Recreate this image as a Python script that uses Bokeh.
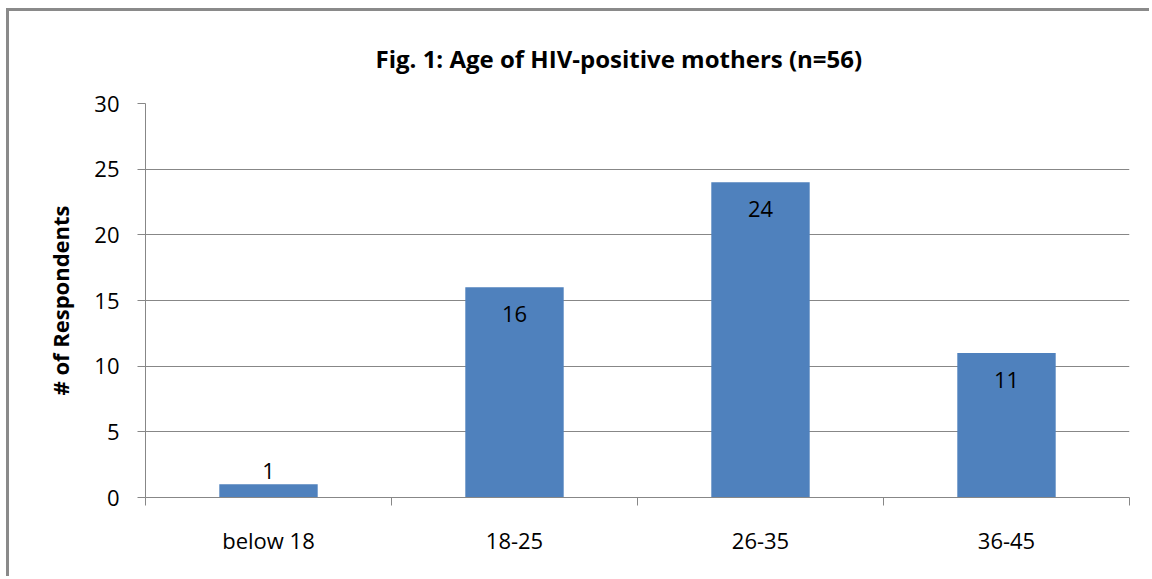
from bokeh.plotting import figure
from bokeh.models import FixedTicker, ColumnDataSource
from bokeh.core.properties import value
from bokeh.embed import file_html
from bokeh.resources import INLINE

categories = ["below 18", "18-25", "26-35", "36-45"]
counts = [1, 16, 24, 11]
y_ticks = [0, 5, 10, 15, 20, 25, 30]
title_text = "Fig. 1: Age of HIV-positive mothers (n=56)"

FONT = "Open Sans"
GREY = "#878787"
BAR = "#4F81BD"

W, H = 1143, 568
p = figure(width=W, height=H, x_range=(0, len(categories)), y_range=(0, 30),
           output_backend="svg", toolbar_location=None,
           min_border_left=136, min_border_right=23, min_border_top=91, min_border_bottom=82)
p.styles = {"border-left": "3px solid #8a8a8a", "border-top": "3px solid #8a8a8a",
            "margin-left": "6px", "margin-top": "8px"}
p.outline_line_color = None
p.background_fill_color = "white"
p.border_fill_color = "white"

p.title.text = title_text
p.title.align = "left"
p.title.offset = 230
p.title.standoff = 57
p.title.text_font = FONT
p.title.text_font_size = "24px"
p.title.text_font_style = "bold"
p.title.text_color = "black"

xs = [i + 0.5 for i in range(len(categories))]
src = ColumnDataSource(dict(x=xs, top=counts))
p.vbar(x="x", top="top", width=0.4, bottom=0, source=src, fill_color=BAR, line_color=None)

# data labels: inside bar end, or above if bar is short
inside = dict(x=[], y=[], t=[])
outside = dict(x=[], y=[], t=[])
for x, c in zip(xs, counts):
    d = inside if c >= 5 else outside
    d["x"].append(x); d["y"].append(c); d["t"].append(str(c))
p.text(x="x", y="y", text="t", source=ColumnDataSource(inside), text_align="center",
       text_baseline="top", y_offset=19, text_font=value(FONT), text_font_size="22px", text_color="black")
p.text(x="x", y="y", text="t", source=ColumnDataSource(outside), text_align="center",
       text_baseline="bottom", y_offset=-5, text_font=value(FONT), text_font_size="22px", text_color="black")

# axes
p.yaxis.ticker = FixedTicker(ticks=y_ticks, minor_ticks=[])
p.yaxis.axis_line_color = GREY
p.yaxis.major_tick_line_color = GREY
p.yaxis.major_tick_out = 8
p.yaxis.major_tick_in = 0
p.yaxis.minor_tick_line_color = None
p.yaxis.major_label_text_font = FONT
p.yaxis.major_label_text_font_size = "22px"
p.yaxis.major_label_text_color = "black"
p.yaxis.major_label_standoff = 18
p.yaxis.axis_label = "# of Respondents"
p.yaxis.axis_label_text_font = FONT
p.yaxis.axis_label_text_font_size = "22px"
p.yaxis.axis_label_text_font_style = "bold"
p.yaxis.axis_label_text_color = "black"
p.yaxis.axis_label_standoff = 16

p.xaxis.ticker = FixedTicker(ticks=xs, minor_ticks=list(range(len(categories) + 1)))
p.xaxis.major_label_overrides = {x: c for x, c in zip(xs, categories)}
p.xaxis.axis_line_color = GREY
p.xaxis.major_tick_line_color = None
p.xaxis.minor_tick_line_color = GREY
p.xaxis.minor_tick_out = 8
p.xaxis.minor_tick_in = 0
p.xaxis.major_label_text_font = FONT
p.xaxis.major_label_text_font_size = "22px"
p.xaxis.major_label_text_color = "black"
p.xaxis.major_label_standoff = 19

p.xgrid.grid_line_color = None
p.ygrid.grid_line_color = GREY
p.ygrid.grid_line_width = 1

open("out.html", "w").write(file_html(p, INLINE))
